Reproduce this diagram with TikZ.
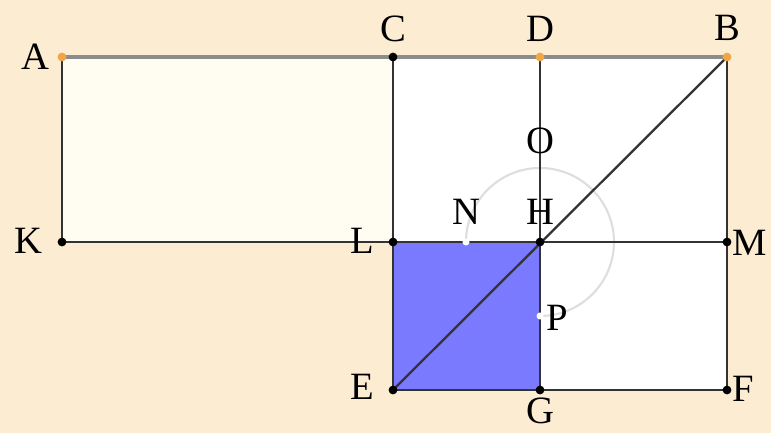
\documentclass[tikz,border=0pt]{standalone}
\usepackage{fontspec}
\setmainfont{Liberation Serif}
\usetikzlibrary{positioning}
\definecolor{bgpeach}{RGB}{252,236,210}
\definecolor{cream}{RGB}{255,253,242}
\definecolor{sqblue}{RGB}{122,122,255}
\definecolor{dotorange}{RGB}{240,165,70}
\tikzset{pt/.style = {circle, fill = black, inner sep = 0pt, minimum size = 5pt},
         opt/.style = {circle, fill = dotorange, inner sep = 0pt, minimum size = 5pt},
         wpt/.style = {circle, fill = white, inner sep = 0pt, minimum size = 4pt},
         lbl/.style = {font = \fontsize{22}{24}\selectfont, inner sep = 1pt},
         edge/.style = {draw = black!80, line width = 1.3pt},
         topedge/.style = {draw = black!45, line width = 1.9pt},
         arcline/.style = {draw = black!13, line width = 1.2pt},
}

\begin{document}
\begin{tikzpicture}[x = 0.02cm, y = -0.02cm, node distance = 4pt]

  \fill[bgpeach] (0,0) rectangle (771,433);
  \useasboundingbox (0,0) rectangle (771,433);

  \coordinate (A) at (62,57);
  \coordinate (C) at (393,57);
  \coordinate (D) at (540,57);
  \coordinate (B) at (727,57);
  \coordinate (K) at (62,242);
  \coordinate (L) at (393,242);
  \coordinate (H) at (540,242);
  \coordinate (M) at (727,242);
  \coordinate (E) at (393,390);
  \coordinate (G) at (540,390);
  \coordinate (F) at (727,390);
  \coordinate (N) at (466,242);
  \coordinate (P) at (540,316);

  \fill[cream] (A) rectangle (L);
  \fill[white] (C) rectangle (M);
  \fill[white] (H) rectangle (F);
  \fill[sqblue] (L) rectangle (G);

  \draw[arcline] (N) arc[start angle = 180, end angle = -90, radius = 1.48cm];

  \draw[edge] (A) -- (K) -- (M) -- (B);
  \draw[edge] (C) -- (E) -- (F) -- (M);
  \draw[edge] (D) -- (G);
  \draw[edge] (B) -- (E);
  \draw[topedge] (A) -- (B);

  \foreach \p in {C,K,L,H,M,E,G,F}
    \node[pt] at (\p) {};
  \foreach \p in {A,D,B}
    \node[opt] at (\p) {};
  \node[wpt] at (N) {};
  \node[wpt] at (P) {};

  \node[lbl] at (35,57) (labA) {A};
  \node[lbl] at (393,29) (labC) {C};
  \node[lbl] at (540,29) (labD) {D};
  \node[lbl] at (727,28) (labB) {B};
  \node[lbl] at (540,141) (labO) {O};
  \node[lbl] at (466,212) (labN) {N};
  \node[lbl] at (540,212) (labH) {H};
  \node[lbl] at (28,241) (labK) {K};
  \node[lbl] at (362,241) (labL) {L};
  \node[lbl] at (750,243) (labM) {M};
  \node[lbl] at (362,387) (labE) {E};
  \node[lbl] at (540,411) (labG) {G};
  \node[lbl] at (743,389) (labF) {F};
  \node[lbl] at (557,318) (labP) {P};

\end{tikzpicture}
\end{document}
